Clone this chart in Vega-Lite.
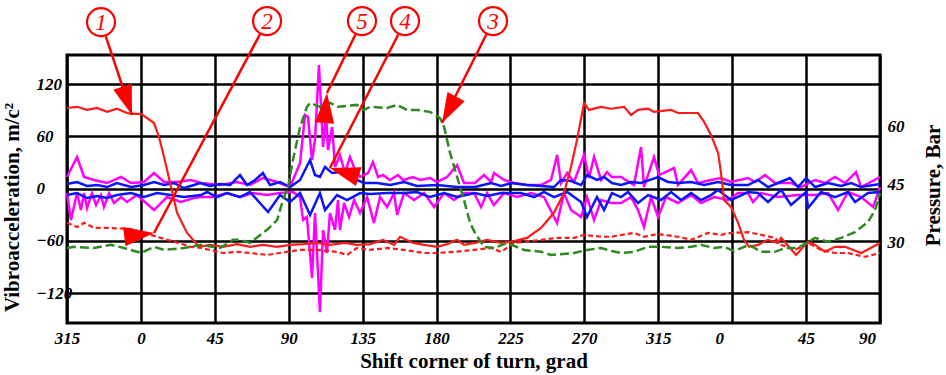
{
"$schema": "https://vega.github.io/schema/vega-lite/v6.json",
"width": 813, "height": 268,
"autosize": {"type": "none"},
"padding": {"left": 67, "top": 55, "right": 66, "bottom": 52},
"background": "white",
"config": {"view": {"stroke": "black", "strokeWidth": 3}, "font": "Liberation Serif"},
"datasets": {
"vib": [
{"s":"5a","a":315,"v":13.2},{"s":"5a","a":321.1,"v":36.2},{"s":"5a","a":325.4,"v":13.2},{"s":"5a","a":331.4,"v":9.8},{"s":"5a","a":339.4,"v":6.3},{"s":"5a","a":347.9,"v":13.2},{"s":"5a","a":354,"v":6.3},{"s":"5a","a":361.9,"v":7.5},{"s":"5a","a":368,"v":17.8},{"s":"5a","a":374.1,"v":7.5},{"s":"5a","a":382,"v":7.5},{"s":"5a","a":390.5,"v":9.8},{"s":"5a","a":396.6,"v":6.3},{"s":"5a","a":408.2,"v":4},{"s":"5a","a":418.5,"v":7.5},{"s":"5a","a":426.4,"v":4},{"s":"5a","a":434.3,"v":12.1},{"s":"5a","a":442.9,"v":7.5},{"s":"5a","a":450.8,"v":1.7},{"s":"5a","a":456.9,"v":29.3},{"s":"5a","a":459.9,"v":84.4},{"s":"5a","a":461.7,"v":82.1},{"s":"5a","a":464.2,"v":32.7},{"s":"5a","a":466,"v":55.7},{"s":"5a","a":468.4,"v":141.8},{"s":"5a","a":470.9,"v":47.6},{"s":"5a","a":472.7,"v":86.7},{"s":"5a","a":473.9,"v":44.2},{"s":"5a","a":476.4,"v":70.6},{"s":"5a","a":478.2,"v":24.7},{"s":"5a","a":481.2,"v":38.5},{"s":"5a","a":484.3,"v":17.8},{"s":"5a","a":487.3,"v":36.2},{"s":"5a","a":490.4,"v":21.2},{"s":"5a","a":493.4,"v":13.2},{"s":"5a","a":498.3,"v":17.8},{"s":"5a","a":501.3,"v":30.4},{"s":"5a","a":504.4,"v":13.2},{"s":"5a","a":507.4,"v":15.5},{"s":"5a","a":511.7,"v":9.8},{"s":"5a","a":516.5,"v":15.5},{"s":"5a","a":519.6,"v":9.8},{"s":"5a","a":525.7,"v":13.2},{"s":"5a","a":530,"v":9.8},{"s":"5a","a":536,"v":12.1},{"s":"5a","a":540.3,"v":7.5},{"s":"5a","a":546.4,"v":13.2},{"s":"5a","a":552.5,"v":26.9},{"s":"5a","a":556.7,"v":6.3},{"s":"5a","a":563.4,"v":6.3},{"s":"5a","a":568.9,"v":15.5},{"s":"5a","a":573.2,"v":7.5},{"s":"5a","a":575,"v":17.8},{"s":"5a","a":581.1,"v":9.8},{"s":"5a","a":587.2,"v":6.3},{"s":"5a","a":595.1,"v":4},{"s":"5a","a":603.6,"v":4},{"s":"5a","a":609.7,"v":9.8},{"s":"5a","a":613.4,"v":38.5},{"s":"5a","a":615.8,"v":6.3},{"s":"5a","a":619.5,"v":17.8},{"s":"5a","a":623.7,"v":7.5},{"s":"5a","a":629.8,"v":38.5},{"s":"5a","a":632.8,"v":12.1},{"s":"5a","a":635.9,"v":36.2},{"s":"5a","a":640.2,"v":9.8},{"s":"5a","a":643.8,"v":18.9},{"s":"5a","a":646.8,"v":13.2},{"s":"5a","a":652.3,"v":13.2},{"s":"5a","a":660.2,"v":4},{"s":"5a","a":664.5,"v":47.6},{"s":"5a","a":666.3,"v":1.7},{"s":"5a","a":672.4,"v":36.2},{"s":"5a","a":675.5,"v":15.5},{"s":"5a","a":684.6,"v":23.5},{"s":"5a","a":687,"v":4},{"s":"5a","a":695,"v":21.2},{"s":"5a","a":699.2,"v":6.3},{"s":"5a","a":707.1,"v":9.8},{"s":"5a","a":713.2,"v":12.1},{"s":"5a","a":719.3,"v":7.5},{"s":"5a","a":729.7,"v":12.1},{"s":"5a","a":733.9,"v":7.5},{"s":"5a","a":740,"v":15.5},{"s":"5a","a":746.1,"v":6.3},{"s":"5a","a":755.8,"v":6.3},{"s":"5a","a":761.9,"v":1.7},{"s":"5a","a":770.5,"v":9.8},{"s":"5a","a":776.5,"v":6.3},{"s":"5a","a":782.6,"v":13.2},{"s":"5a","a":788.7,"v":6.3},{"s":"5a","a":795.4,"v":18.9},{"s":"5a","a":798.5,"v":1.7},{"s":"5a","a":810,"v":13.2},
{"s":"5b","a":315,"v":-5.2},{"s":"5b","a":317.4,"v":-36.2},{"s":"5b","a":321.1,"v":-5.2},{"s":"5b","a":323.5,"v":-24.7},{"s":"5b","a":325.4,"v":-5.2},{"s":"5b","a":327.2,"v":-22.4},{"s":"5b","a":330.2,"v":-5.2},{"s":"5b","a":332.7,"v":-18.9},{"s":"5b","a":335.7,"v":-7.5},{"s":"5b","a":337.5,"v":-21.2},{"s":"5b","a":340.6,"v":-5.2},{"s":"5b","a":343.6,"v":-16.6},{"s":"5b","a":347.9,"v":-9.8},{"s":"5b","a":351.5,"v":-15.5},{"s":"5b","a":357.6,"v":-7.5},{"s":"5b","a":368,"v":-24.7},{"s":"5b","a":375.9,"v":-9.8},{"s":"5b","a":384.4,"v":-15.5},{"s":"5b","a":392.3,"v":-10.9},{"s":"5b","a":396.6,"v":-9.8},{"s":"5b","a":403.9,"v":-9.8},{"s":"5b","a":412.4,"v":-5.2},{"s":"5b","a":420.3,"v":-9.8},{"s":"5b","a":428.3,"v":-5.2},{"s":"5b","a":436.8,"v":-7.5},{"s":"5b","a":444.7,"v":-5.2},{"s":"5b","a":452.6,"v":-4},{"s":"5b","a":456.9,"v":-9.8},{"s":"5b","a":458.7,"v":-36.2},{"s":"5b","a":461.1,"v":-32.7},{"s":"5b","a":464.2,"v":-102.7},{"s":"5b","a":466,"v":-28.1},{"s":"5b","a":469,"v":-141.8},{"s":"5b","a":470.9,"v":-47.6},{"s":"5b","a":473.3,"v":-74},{"s":"5b","a":475.1,"v":-28.1},{"s":"5b","a":478.2,"v":-47.6},{"s":"5b","a":480,"v":-13.2},{"s":"5b","a":481.2,"v":-47.6},{"s":"5b","a":483.7,"v":-16.6},{"s":"5b","a":486.7,"v":-32.7},{"s":"5b","a":489.8,"v":-13.2},{"s":"5b","a":493.4,"v":-28.1},{"s":"5b","a":497.7,"v":-9.8},{"s":"5b","a":501.9,"v":-39.6},{"s":"5b","a":505.6,"v":-9.8},{"s":"5b","a":509.9,"v":-21.2},{"s":"5b","a":514.1,"v":-5.2},{"s":"5b","a":516,"v":-30.4},{"s":"5b","a":520.2,"v":-5.2},{"s":"5b","a":526.3,"v":-13.2},{"s":"5b","a":532.4,"v":-5.2},{"s":"5b","a":538.5,"v":-21.2},{"s":"5b","a":544.6,"v":-5.2},{"s":"5b","a":550.6,"v":-13.2},{"s":"5b","a":556.7,"v":-5.2},{"s":"5b","a":562.8,"v":-5.2},{"s":"5b","a":567.1,"v":-21.2},{"s":"5b","a":570.7,"v":-5.2},{"s":"5b","a":575,"v":-18.9},{"s":"5b","a":581.1,"v":-5.2},{"s":"5b","a":589,"v":-9.8},{"s":"5b","a":597.5,"v":-5.2},{"s":"5b","a":605.4,"v":-9.8},{"s":"5b","a":613.4,"v":-39.6},{"s":"5b","a":617.6,"v":-5.2},{"s":"5b","a":621.9,"v":-24.7},{"s":"5b","a":628,"v":-32.7},{"s":"5b","a":631.6,"v":-9.8},{"s":"5b","a":635.9,"v":-36.2},{"s":"5b","a":640.2,"v":-13.2},{"s":"5b","a":646.2,"v":-16.6},{"s":"5b","a":652.3,"v":-16.6},{"s":"5b","a":658.4,"v":-9.8},{"s":"5b","a":662.7,"v":-24.7},{"s":"5b","a":666.3,"v":-44.2},{"s":"5b","a":670.6,"v":-9.8},{"s":"5b","a":674.9,"v":-32.7},{"s":"5b","a":679.7,"v":-9.8},{"s":"5b","a":687,"v":-16.6},{"s":"5b","a":695,"v":-7.5},{"s":"5b","a":701,"v":-16.6},{"s":"5b","a":709,"v":-9.8},{"s":"5b","a":717.5,"v":-13.2},{"s":"5b","a":723.6,"v":-5.2},{"s":"5b","a":729.7,"v":-5.2},{"s":"5b","a":732.7,"v":-15.5},{"s":"5b","a":737.6,"v":-5.2},{"s":"5b","a":747.9,"v":-9.8},{"s":"5b","a":760.1,"v":-7.5},{"s":"5b","a":770.5,"v":-7.5},{"s":"5b","a":778.4,"v":-5.2},{"s":"5b","a":784.5,"v":-24.7},{"s":"5b","a":790.5,"v":-4},{"s":"5b","a":798.5,"v":-9.8},{"s":"5b","a":805.8,"v":-21.2},{"s":"5b","a":810,"v":1.7},
{"s":"4a","a":315,"v":5.2},{"s":"4a","a":321.1,"v":7.5},{"s":"4a","a":327.2,"v":2.9},{"s":"4a","a":333.3,"v":4},{"s":"4a","a":339.4,"v":1.7},{"s":"4a","a":345.4,"v":6.3},{"s":"4a","a":354,"v":1.7},{"s":"4a","a":361.9,"v":4},{"s":"4a","a":368,"v":7.5},{"s":"4a","a":374.1,"v":4},{"s":"4a","a":380.2,"v":6.3},{"s":"4a","a":386.2,"v":0.6},{"s":"4a","a":392.3,"v":4},{"s":"4a","a":396,"v":6.3},{"s":"4a","a":402.1,"v":2.9},{"s":"4a","a":408.2,"v":5.2},{"s":"4a","a":414.3,"v":4},{"s":"4a","a":420.3,"v":15.5},{"s":"4a","a":424.6,"v":4},{"s":"4a","a":429.5,"v":9.8},{"s":"4a","a":434.3,"v":17.8},{"s":"4a","a":438.6,"v":4},{"s":"4a","a":444.7,"v":7.5},{"s":"4a","a":450.8,"v":1.7},{"s":"4a","a":456.9,"v":9.8},{"s":"4a","a":463,"v":32.7},{"s":"4a","a":466,"v":15.5},{"s":"4a","a":469,"v":13.2},{"s":"4a","a":472.1,"v":24.7},{"s":"4a","a":476.4,"v":17.8},{"s":"4a","a":481.2,"v":18.9},{"s":"4a","a":485.5,"v":13.2},{"s":"4a","a":491.6,"v":9.8},{"s":"4a","a":495.8,"v":6.3},{"s":"4a","a":503.8,"v":6.3},{"s":"4a","a":511.7,"v":4},{"s":"4a","a":520.2,"v":7.5},{"s":"4a","a":528.1,"v":2.9},{"s":"4a","a":540.3,"v":4},{"s":"4a","a":552.5,"v":1.7},{"s":"4a","a":563.4,"v":1.7},{"s":"4a","a":573.2,"v":6.3},{"s":"4a","a":579.3,"v":2.9},{"s":"4a","a":585.4,"v":6.3},{"s":"4a","a":595.1,"v":4},{"s":"4a","a":603.6,"v":2.9},{"s":"4a","a":611.5,"v":1.7},{"s":"4a","a":615.8,"v":9.8},{"s":"4a","a":621.9,"v":8.6},{"s":"4a","a":628,"v":4},{"s":"4a","a":631.6,"v":15.5},{"s":"4a","a":637.7,"v":9.8},{"s":"4a","a":642,"v":13.2},{"s":"4a","a":646.8,"v":6.3},{"s":"4a","a":652.3,"v":4},{"s":"4a","a":658.4,"v":7.5},{"s":"4a","a":664.5,"v":6.3},{"s":"4a","a":674.9,"v":13.2},{"s":"4a","a":680.9,"v":7.5},{"s":"4a","a":687,"v":6.3},{"s":"4a","a":695,"v":7.5},{"s":"4a","a":702.9,"v":4},{"s":"4a","a":711.4,"v":7.5},{"s":"4a","a":719.3,"v":4},{"s":"4a","a":729.7,"v":4},{"s":"4a","a":735.7,"v":9.8},{"s":"4a","a":741.8,"v":1.7},{"s":"4a","a":747.9,"v":6.3},{"s":"4a","a":755.2,"v":12.1},{"s":"4a","a":760.1,"v":1.7},{"s":"4a","a":765,"v":12.1},{"s":"4a","a":770.5,"v":1.7},{"s":"4a","a":778.4,"v":6.3},{"s":"4a","a":786.3,"v":2.9},{"s":"4a","a":792.4,"v":6.3},{"s":"4a","a":798.5,"v":1.7},{"s":"4a","a":810,"v":5.2},
{"s":"4b","a":315,"v":-7.5},{"s":"4b","a":321.1,"v":-5.2},{"s":"4b","a":327.2,"v":-10.9},{"s":"4b","a":333.3,"v":-8.6},{"s":"4b","a":339.4,"v":-10.9},{"s":"4b","a":345.4,"v":-7.5},{"s":"4b","a":354,"v":-5.2},{"s":"4b","a":361.9,"v":-9.8},{"s":"4b","a":369.8,"v":-5.2},{"s":"4b","a":378.3,"v":-7.5},{"s":"4b","a":386.2,"v":-9.8},{"s":"4b","a":396.6,"v":-7.5},{"s":"4b","a":400.3,"v":-4},{"s":"4b","a":406.3,"v":-9.8},{"s":"4b","a":412.4,"v":-5.2},{"s":"4b","a":420.3,"v":-9.8},{"s":"4b","a":426.4,"v":-4},{"s":"4b","a":437.4,"v":-27},{"s":"4b","a":444.7,"v":-7.5},{"s":"4b","a":450.8,"v":-15.5},{"s":"4b","a":456.9,"v":-5.2},{"s":"4b","a":463,"v":-30.4},{"s":"4b","a":469,"v":-5.2},{"s":"4b","a":472.1,"v":-24.7},{"s":"4b","a":479.4,"v":-7.5},{"s":"4b","a":485.5,"v":-13.2},{"s":"4b","a":493.4,"v":-5.2},{"s":"4b","a":499.5,"v":-6.3},{"s":"4b","a":509.9,"v":-5.2},{"s":"4b","a":520.2,"v":-5.2},{"s":"4b","a":528.1,"v":-4},{"s":"4b","a":536,"v":-9.8},{"s":"4b","a":544.6,"v":-5.2},{"s":"4b","a":552.5,"v":-9.8},{"s":"4b","a":563.4,"v":-5.2},{"s":"4b","a":570.7,"v":-8.6},{"s":"4b","a":579.3,"v":-5.2},{"s":"4b","a":591.4,"v":-5.2},{"s":"4b","a":599.4,"v":-9.8},{"s":"4b","a":605.4,"v":-4},{"s":"4b","a":611.5,"v":-9.8},{"s":"4b","a":619.5,"v":-4},{"s":"4b","a":628,"v":-15.5},{"s":"4b","a":631.6,"v":-32.7},{"s":"4b","a":637.7,"v":-9.8},{"s":"4b","a":642,"v":-24.7},{"s":"4b","a":646.8,"v":-5.2},{"s":"4b","a":652.3,"v":-9.8},{"s":"4b","a":656.6,"v":-4},{"s":"4b","a":662.7,"v":-16.6},{"s":"4b","a":668.8,"v":-7.5},{"s":"4b","a":676.7,"v":-13.2},{"s":"4b","a":682.8,"v":-4},{"s":"4b","a":688.9,"v":-13.2},{"s":"4b","a":695,"v":-5.2},{"s":"4b","a":701,"v":-13.2},{"s":"4b","a":707.1,"v":-7.5},{"s":"4b","a":711.4,"v":-1.7},{"s":"4b","a":719.3,"v":-13.2},{"s":"4b","a":729.7,"v":-4},{"s":"4b","a":735.7,"v":-5.2},{"s":"4b","a":741.8,"v":-15.5},{"s":"4b","a":749.8,"v":-1.7},{"s":"4b","a":755.8,"v":-18.9},{"s":"4b","a":765,"v":-4},{"s":"4b","a":766.2,"v":-22.4},{"s":"4b","a":774.1,"v":-4},{"s":"4b","a":782.6,"v":-9.8},{"s":"4b","a":790.5,"v":-4},{"s":"4b","a":794.8,"v":-15.5},{"s":"4b","a":802.7,"v":-5.2},{"s":"4b","a":810,"v":-4}
],
"pres": [
{"s":"1","a":315,"p":64.9},{"s":"1","a":321.1,"p":65.2},{"s":"1","a":327.2,"p":64.4},{"s":"1","a":333.3,"p":64.9},{"s":"1","a":339.4,"p":63.9},{"s":"1","a":345.4,"p":64.7},{"s":"1","a":351.5,"p":63.6},{"s":"1","a":354.6,"p":63.4},{"s":"1","a":360.1,"p":63.4},{"s":"1","a":368,"p":61},{"s":"1","a":371,"p":57.4},{"s":"1","a":374.1,"p":52.2},{"s":"1","a":378.3,"p":44.5},{"s":"1","a":382,"p":37.8},{"s":"1","a":388.1,"p":32.6},{"s":"1","a":395.4,"p":29},{"s":"1","a":402.1,"p":29.5},{"s":"1","a":410,"p":29},{"s":"1","a":418.5,"p":29.7},{"s":"1","a":426.4,"p":29},{"s":"1","a":434.3,"p":29.5},{"s":"1","a":442.9,"p":29},{"s":"1","a":450.8,"p":29.5},{"s":"1","a":458.7,"p":29.7},{"s":"1","a":467.2,"p":30},{"s":"1","a":475.1,"p":29.5},{"s":"1","a":484.3,"p":30},{"s":"1","a":491.6,"p":29.5},{"s":"1","a":499.5,"p":29.7},{"s":"1","a":507.4,"p":30.8},{"s":"1","a":514.1,"p":29.5},{"s":"1","a":517.8,"p":31.6},{"s":"1","a":525.7,"p":30},{"s":"1","a":532.4,"p":29.5},{"s":"1","a":540.3,"p":29},{"s":"1","a":546.4,"p":29.7},{"s":"1","a":552.5,"p":30.8},{"s":"1","a":556.7,"p":29.5},{"s":"1","a":563.4,"p":30},{"s":"1","a":570.7,"p":30.8},{"s":"1","a":579.3,"p":30},{"s":"1","a":585.4,"p":30.3},{"s":"1","a":595.1,"p":31.3},{"s":"1","a":603.6,"p":33.9},{"s":"1","a":611.5,"p":37.8},{"s":"1","a":617.6,"p":42.9},{"s":"1","a":621.9,"p":49.7},{"s":"1","a":625.5,"p":56.6},{"s":"1","a":629.8,"p":66.2},{"s":"1","a":632.8,"p":64.4},{"s":"1","a":640.2,"p":65.2},{"s":"1","a":646.2,"p":64.7},{"s":"1","a":654.2,"p":65.2},{"s":"1","a":658.4,"p":63.1},{"s":"1","a":662.7,"p":64.4},{"s":"1","a":668.8,"p":64.7},{"s":"1","a":672.4,"p":63.9},{"s":"1","a":682.8,"p":64.4},{"s":"1","a":687,"p":63.6},{"s":"1","a":699.2,"p":63.6},{"s":"1","a":702.9,"p":61.3},{"s":"1","a":707.1,"p":57.9},{"s":"1","a":711.4,"p":53.3},{"s":"1","a":713.2,"p":48.1},{"s":"1","a":715,"p":41.1},{"s":"1","a":719.3,"p":39.3},{"s":"1","a":723.6,"p":35.2},{"s":"1","a":727.2,"p":30.8},{"s":"1","a":730.3,"p":29},{"s":"1","a":735.7,"p":29.5},{"s":"1","a":741.8,"p":30.8},{"s":"1","a":747.9,"p":30},{"s":"1","a":749.8,"p":31.3},{"s":"1","a":758.9,"p":26.9},{"s":"1","a":766.2,"p":30.3},{"s":"1","a":770.5,"p":29.5},{"s":"1","a":776.5,"p":27.7},{"s":"1","a":782.6,"p":29},{"s":"1","a":788.7,"p":29},{"s":"1","a":798.5,"p":27.4},{"s":"1","a":810,"p":30},
{"s":"2","a":315,"p":35.2},{"s":"2","a":321.1,"p":34.1},{"s":"2","a":325.4,"p":35.2},{"s":"2","a":331.4,"p":33.9},{"s":"2","a":339.4,"p":33.9},{"s":"2","a":354,"p":33.6},{"s":"2","a":361.9,"p":32.6},{"s":"2","a":369.8,"p":31.6},{"s":"2","a":380.2,"p":30.3},{"s":"2","a":390.5,"p":29},{"s":"2","a":396.6,"p":28.7},{"s":"2","a":410,"p":27.4},{"s":"2","a":418.5,"p":27.7},{"s":"2","a":426.4,"p":27.4},{"s":"2","a":436.8,"p":26.9},{"s":"2","a":449,"p":27.7},{"s":"2","a":456.9,"p":28.2},{"s":"2","a":467.2,"p":28.2},{"s":"2","a":479.4,"p":27.7},{"s":"2","a":485.5,"p":26.9},{"s":"2","a":491.6,"p":28.7},{"s":"2","a":499.5,"p":28.2},{"s":"2","a":509.9,"p":28.7},{"s":"2","a":520.2,"p":28.2},{"s":"2","a":532.4,"p":27.4},{"s":"2","a":540.3,"p":27.4},{"s":"2","a":550.6,"p":27.7},{"s":"2","a":562.8,"p":28.2},{"s":"2","a":573.2,"p":28.7},{"s":"2","a":579.3,"p":27.7},{"s":"2","a":587.2,"p":30},{"s":"2","a":603.6,"p":30.8},{"s":"2","a":613.4,"p":31.3},{"s":"2","a":623.7,"p":31.3},{"s":"2","a":629.8,"p":32.1},{"s":"2","a":640.2,"p":31.6},{"s":"2","a":646.2,"p":31.6},{"s":"2","a":660.2,"p":32.6},{"s":"2","a":666.3,"p":31.6},{"s":"2","a":674.9,"p":32.3},{"s":"2","a":687,"p":31.6},{"s":"2","a":695,"p":30.8},{"s":"2","a":705.3,"p":32.6},{"s":"2","a":713.2,"p":32.1},{"s":"2","a":719.3,"p":32.6},{"s":"2","a":729.7,"p":32.8},{"s":"2","a":737.6,"p":32.1},{"s":"2","a":746.1,"p":31.3},{"s":"2","a":749.8,"p":29.5},{"s":"2","a":758.3,"p":28.2},{"s":"2","a":766.2,"p":30},{"s":"2","a":774.1,"p":28.2},{"s":"2","a":782.6,"p":27.4},{"s":"2","a":790.5,"p":27.4},{"s":"2","a":800.9,"p":26.4},{"s":"2","a":810,"p":27.4},
{"s":"3","a":315,"p":28.7},{"s":"3","a":319.3,"p":29},{"s":"3","a":331.4,"p":28.7},{"s":"3","a":341.8,"p":29.5},{"s":"3","a":349.7,"p":28.7},{"s":"3","a":360.1,"p":27.4},{"s":"3","a":368,"p":29},{"s":"3","a":374.1,"p":28.2},{"s":"3","a":386.2,"p":28.7},{"s":"3","a":396.6,"p":29.5},{"s":"3","a":408.2,"p":28.7},{"s":"3","a":416.1,"p":30.8},{"s":"3","a":420.3,"p":30.8},{"s":"3","a":426.4,"p":30},{"s":"3","a":436.8,"p":33.4},{"s":"3","a":442.9,"p":35.9},{"s":"3","a":446.5,"p":41.1},{"s":"3","a":449.6,"p":44.5},{"s":"3","a":452.6,"p":51.5},{"s":"3","a":456.9,"p":60},{"s":"3","a":461.1,"p":65.2},{"s":"3","a":463,"p":66.2},{"s":"3","a":469,"p":65.2},{"s":"3","a":475.1,"p":66.2},{"s":"3","a":480,"p":65.2},{"s":"3","a":491.6,"p":65.7},{"s":"3","a":495.8,"p":64.4},{"s":"3","a":499.5,"p":65.2},{"s":"3","a":509.9,"p":64.9},{"s":"3","a":516,"p":65.7},{"s":"3","a":522,"p":64.4},{"s":"3","a":528.1,"p":64.4},{"s":"3","a":536,"p":63.9},{"s":"3","a":542.1,"p":62.3},{"s":"3","a":544.6,"p":60},{"s":"3","a":548.2,"p":53.3},{"s":"3","a":552.5,"p":47.1},{"s":"3","a":556.7,"p":41.1},{"s":"3","a":560.4,"p":35.2},{"s":"3","a":563.4,"p":32.6},{"s":"3","a":568.9,"p":29},{"s":"3","a":575,"p":28.7},{"s":"3","a":582.9,"p":30},{"s":"3","a":593.3,"p":28.2},{"s":"3","a":603.6,"p":27.7},{"s":"3","a":609.7,"p":26.9},{"s":"3","a":623.7,"p":27.4},{"s":"3","a":631.6,"p":28.2},{"s":"3","a":640.2,"p":28.7},{"s":"3","a":646.8,"p":27.9},{"s":"3","a":652.3,"p":27.4},{"s":"3","a":660.2,"p":27.7},{"s":"3","a":668.8,"p":29},{"s":"3","a":676.7,"p":29},{"s":"3","a":687,"p":28.7},{"s":"3","a":695,"p":29},{"s":"3","a":701,"p":29.5},{"s":"3","a":709,"p":28.7},{"s":"3","a":715,"p":29},{"s":"3","a":721.1,"p":27.9},{"s":"3","a":730.3,"p":29.5},{"s":"3","a":737.6,"p":27.7},{"s":"3","a":746.1,"p":27.7},{"s":"3","a":752.2,"p":28.7},{"s":"3","a":760.1,"p":28.7},{"s":"3","a":770.5,"p":31.3},{"s":"3","a":778.4,"p":30.3},{"s":"3","a":786.3,"p":31.3},{"s":"3","a":794.8,"p":32.8},{"s":"3","a":802.7,"p":35.4},{"s":"3","a":807,"p":38.5},{"s":"3","a":810,"p":42.9}
],
"arrows": [
{"id":"1","a":354.6,"v":84.4,"a2":338.6,"v2":174.8},
{"id":"2","a":368.0,"v":-51.1,"a2":432.5,"v2":177.1},
{"id":"5","a":473.3,"v":109.6,"a2":490.6,"v2":176.8},
{"id":"4","a":475.1,"v":23.5,"a2":516.7,"v2":176.9},
{"id":"3","a":543.3,"v":75.2,"a2":570.3,"v2":176.9}
],
"circles": [
{"id":"1","a":335.7,"v":191.1},
{"id":"2","a":436.8,"v":192.3},
{"id":"5","a":494.6,"v":192.3},
{"id":"4","a":520.8,"v":192.3},
{"id":"3","a":574.4,"v":192.3}
]
},
"encoding": {
"x": {"field": "a", "type": "quantitative",
 "scale": {"domain": [315, 810], "nice": false, "zero": false},
 "axis": {"title": "Shift corner of turn, grad",
  "values": [315,360,405,450,495,540,585,630,675,720,765,810],
  "labelExpr": "'' + (datum.value % 360)",
  "grid": true, "gridColor": "black", "gridWidth": 2.5, "gridOpacity": 1,
  "domain": false, "ticks": false, "tickSize": 0,
  "labelFont": "Liberation Serif", "labelFontSize": 17, "labelFontStyle": "italic", "labelFontWeight": "bold", "labelColor": "black",
  "labelBaseline": "alphabetic", "labelPadding": 20, "labelFlush": false, "labelOverlap": false,
  "labelOffset": {"condition": {"test": "datum.value == 720 || datum.value == 810", "value": -13}, "value": 0},
  "titleFont": "Liberation Serif", "titleFontSize": 21, "titleFontWeight": "bold", "titleColor": "black",
  "titleBaseline": "alphabetic", "titleY": 44}}
},
"layer": [
{"data": {"name": "vib"}, "transform": [{"filter": "datum.s == '5a' || datum.s == '5b'"}],
 "mark": {"type": "line", "color": "#ff00ff", "strokeWidth": 2.5},
 "encoding": {
  "y": {"field": "v", "type": "quantitative", "scale": {"domain": [-154.4, 153.3], "nice": false, "zero": false},
   "axis": {"orient": "left", "title": "Vibroacceleration, m/c²", "values": [-120,-60,0,60,120],
    "grid": true, "gridColor": "black", "gridWidth": 2.5, "gridOpacity": 1,
    "domain": false, "ticks": false, "tickSize": 0,
    "labelFont": "Liberation Serif", "labelFontSize": 17, "labelFontStyle": "italic", "labelFontWeight": "bold", "labelColor": "black",
    "labelAlign": "left", "labelBaseline": "middle", "labelPadding": 31,
    "titleFont": "Liberation Serif", "titleFontSize": 21, "titleFontWeight": "bold", "titleColor": "black",
    "titleAngle": -90, "titleBaseline": "alphabetic", "titleAlign": "center", "titleX": -49, "titleY": 152}},
  "detail": {"field": "s", "type": "nominal"}}},
{"data": {"name": "vib"}, "transform": [{"filter": "datum.s == '4a' || datum.s == '4b'"}],
 "mark": {"type": "line", "color": "#0a14ff", "strokeWidth": 2.5},
 "encoding": {
  "y": {"field": "v", "type": "quantitative", "scale": {"domain": [-154.4, 153.3], "nice": false, "zero": false}, "axis": null},
  "detail": {"field": "s", "type": "nominal"}}},
{"data": {"name": "pres"}, "transform": [{"filter": "datum.s == '1'"}],
 "mark": {"type": "line", "color": "#ff1a1a", "strokeWidth": 2.2},
 "encoding": {
  "y": {"field": "p", "type": "quantitative", "scale": {"domain": [9.3, 78.6], "nice": false, "zero": false},
   "axis": {"orient": "right", "title": "Pressure, Bar", "values": [30,45,60],
    "grid": false, "domain": false, "ticks": false, "tickSize": 0,
    "labelFont": "Liberation Serif", "labelFontSize": 17, "labelFontStyle": "italic", "labelFontWeight": "bold", "labelColor": "black",
    "labelAlign": "left", "labelBaseline": "middle", "labelPadding": 7,
    "titleFont": "Liberation Serif", "titleFontSize": 21, "titleFontWeight": "bold", "titleColor": "black",
    "titleAngle": -90, "titleBaseline": "alphabetic", "titleAlign": "center", "titleX": 59, "titleY": 130}}}},
{"data": {"name": "pres"}, "transform": [{"filter": "datum.s == '2'"}],
 "mark": {"type": "line", "color": "#ff1a1a", "strokeWidth": 2.2, "strokeDash": [5, 3]},
 "encoding": {
  "y": {"field": "p", "type": "quantitative", "scale": {"domain": [9.3, 78.6], "nice": false, "zero": false}, "axis": null}}},
{"data": {"name": "pres"}, "transform": [{"filter": "datum.s == '3'"}],
 "mark": {"type": "line", "color": "#2d8a1e", "strokeWidth": 2.5, "strokeDash": [9, 4]},
 "encoding": {
  "y": {"field": "p", "type": "quantitative", "scale": {"domain": [9.3, 78.6], "nice": false, "zero": false}, "axis": null}}},
{"data": {"name": "arrows"},
 "mark": {"type": "rule", "color": "#ff0000", "strokeWidth": 2.5, "clip": false},
 "encoding": {
  "y": {"field": "v", "type": "quantitative", "scale": {"domain": [-154.4, 153.3], "nice": false, "zero": false}, "axis": null},
  "x2": {"field": "a2"},
  "y2": {"field": "v2"}}},
{"data": {"name": "arrows"},
 "mark": {"type": "point", "shape": "M0,0L-0.65,-2L0.65,-2Z", "filled": true, "color": "#ff0000", "opacity": 1, "size": 900, "clip": false},
 "encoding": {
  "y": {"field": "v", "type": "quantitative", "scale": {"domain": [-154.4, 153.3], "nice": false, "zero": false}, "axis": null},
  "angle": {"field": "id", "type": "nominal", "scale": {"domain": ["1","2","5","4","3"], "range": [341.5, 28.1, 25.9, 27, 26.6]}, "legend": null}}},
{"data": {"name": "circles"},
 "mark": {"type": "point", "shape": "circle", "filled": true, "fill": "white", "stroke": "#ff0000", "strokeWidth": 2.2, "opacity": 1, "size": 784, "clip": false},
 "encoding": {
  "y": {"field": "v", "type": "quantitative", "scale": {"domain": [-154.4, 153.3], "nice": false, "zero": false}, "axis": null}}},
{"data": {"name": "circles"},
 "mark": {"type": "text", "font": "Liberation Serif", "fontSize": 23, "fontStyle": "italic", "color": "#ff0000", "align": "center", "baseline": "middle", "dy": 1, "clip": false},
 "encoding": {
  "y": {"field": "v", "type": "quantitative", "scale": {"domain": [-154.4, 153.3], "nice": false, "zero": false}, "axis": null},
  "text": {"field": "id", "type": "nominal"}}}
],
"resolve": {"scale": {"y": "independent"}}
}
